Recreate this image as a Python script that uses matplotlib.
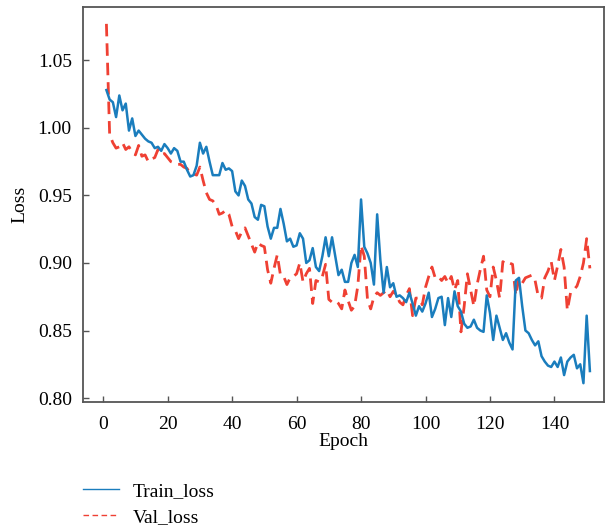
import numpy as np
import matplotlib
matplotlib.use('Agg')
from matplotlib import pyplot as plt
from matplotlib.lines import Line2D

plt.rcParams['font.family'] = ['Liberation Serif', 'DejaVu Serif']

epochs = np.arange(1, 152)

train_loss = [
    1.028, 1.021, 1.019, 1.008, 1.024, 1.013, 1.018, 0.998, 1.007, 0.994,
    0.998, 0.995, 0.992, 0.990, 0.989, 0.985, 0.986, 0.983, 0.988, 0.985,
    0.981, 0.985, 0.983, 0.975, 0.975, 0.969, 0.964, 0.965, 0.972, 0.989,
    0.981, 0.986, 0.975, 0.965, 0.965, 0.965, 0.974, 0.969, 0.970, 0.968,
    0.953, 0.950, 0.961, 0.957, 0.947, 0.944, 0.934, 0.932, 0.943, 0.942,
    0.927, 0.918, 0.926, 0.926, 0.940, 0.929, 0.916, 0.918, 0.912, 0.913,
    0.922, 0.918, 0.900, 0.902, 0.911, 0.897, 0.894, 0.905, 0.919, 0.905,
    0.919, 0.905, 0.891, 0.895, 0.886, 0.886, 0.900, 0.906, 0.897, 0.947,
    0.912, 0.907, 0.900, 0.884, 0.936, 0.902, 0.878, 0.897, 0.882, 0.885,
    0.875, 0.876, 0.874, 0.871, 0.878, 0.870, 0.861, 0.868, 0.864, 0.870,
    0.878, 0.860, 0.866, 0.874, 0.875, 0.854, 0.874, 0.860, 0.879, 0.868,
    0.864, 0.855, 0.852, 0.853, 0.858, 0.852, 0.850, 0.849, 0.876, 0.863,
    0.843, 0.861, 0.852, 0.843, 0.848, 0.841, 0.836, 0.887, 0.889, 0.868,
    0.850, 0.848, 0.843, 0.839, 0.842, 0.831, 0.827, 0.824, 0.823, 0.827,
    0.823, 0.830, 0.817, 0.827, 0.830, 0.832, 0.822, 0.825, 0.811, 0.861,
    0.820,
]

val_loss = [
    1.077, 0.995, 0.989, 0.985, 0.986, 0.989, 0.984, 0.986, 0.982, 0.980,
    0.987, 0.979, 0.980, 0.975, 0.977, 0.978, 0.984, 0.980, 0.981, 0.978,
    0.975, 0.974, 0.973, 0.973, 0.971, 0.970, 0.966, 0.966, 0.965, 0.971,
    0.961, 0.952, 0.947, 0.946, 0.943, 0.936, 0.937, 0.939, 0.936, 0.927,
    0.924, 0.918, 0.923, 0.926, 0.920, 0.914, 0.908, 0.915, 0.913, 0.912,
    0.895, 0.885, 0.896, 0.906, 0.891, 0.890, 0.884, 0.889, 0.890, 0.892,
    0.900, 0.886, 0.892, 0.896, 0.870, 0.887, 0.886, 0.890, 0.899, 0.873,
    0.871, 0.872, 0.870, 0.866, 0.880, 0.872, 0.865, 0.868, 0.883, 0.913,
    0.905, 0.873, 0.866, 0.875, 0.878, 0.876, 0.878, 0.880, 0.875, 0.879,
    0.876, 0.871, 0.869, 0.876, 0.881, 0.861, 0.874, 0.874, 0.869, 0.882,
    0.890, 0.897, 0.889, 0.890, 0.887, 0.890, 0.885, 0.890, 0.880, 0.887,
    0.849, 0.868, 0.892, 0.880, 0.868, 0.884, 0.895, 0.905, 0.880, 0.875,
    0.897, 0.887, 0.874, 0.901, 0.899, 0.900, 0.899, 0.876, 0.889, 0.885,
    0.889, 0.890, 0.891, 0.887, 0.875, 0.874, 0.889, 0.894, 0.901, 0.887,
    0.898, 0.910, 0.897, 0.865, 0.878, 0.880, 0.883, 0.890, 0.900, 0.918,
    0.896,
]

xticks = [0, 20, 40, 60, 80, 100, 120, 140]
yticks = [0.80, 0.85, 0.90, 0.95, 1.00, 1.05]

blue = '#1a7dbd'
red = '#ef4033'
spine_col = '#555555'

fig = plt.figure(figsize=(6.05, 5.27), dpi=100)
ax = fig.add_axes([0.137, 0.237, 0.862, 0.750])

ax.plot(epochs, val_loss, color=red, lw=2.0, ls=(0, (4.5, 2.5)), zorder=2)
ax.plot(epochs, train_loss, color=blue, lw=1.8, zorder=3)

ax.set_xlim(-6.3, 155.5)
ax.set_ylim(0.797, 1.0896)
ax.set_xticks(xticks)
ax.set_yticks(yticks)
ax.set_yticklabels(['%.2f' % v for v in yticks])
ax.tick_params(direction='in', length=4, width=1.0, color=spine_col,
               labelsize=14)
ax.tick_params(axis='x', pad=10)
ax.tick_params(axis='y', pad=8)
for s in ax.spines.values():
    s.set_color(spine_col)
    s.set_linewidth(1.3)

ax.set_xlabel('Epoch', fontsize=14, labelpad=0)
ax.set_ylabel('Loss', fontsize=14, labelpad=7)

handles = [Line2D([], [], color=blue, lw=1.0),
           Line2D([], [], color=red, lw=1.0, ls=(0, (4, 2.5)))]
fig.legend(handles, ['Train_loss', 'Val_loss'], loc='upper left',
           bbox_to_anchor=(0.138, 0.085), frameon=False, fontsize=14,
           handlelength=1.85, handletextpad=0.7, labelspacing=0.45,
           borderaxespad=0, borderpad=0)

fig.savefig('out.png', dpi=100)
